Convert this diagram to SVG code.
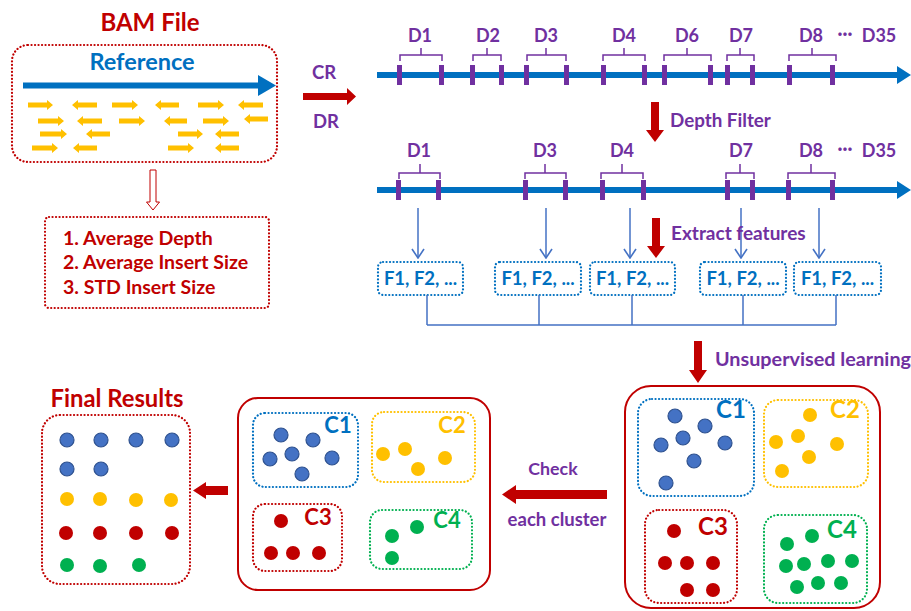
<svg xmlns="http://www.w3.org/2000/svg" width="911" height="611" viewBox="0 0 911 611">
<style>
text{font-family:Lato,"Open Sans","Liberation Sans",sans-serif;font-weight:700}
.red{fill:#C00000}.pur{fill:#7030A0}.blu{fill:#0070C0}
.dotR{fill:none;stroke:#C00000;stroke-width:2.2;stroke-dasharray:0.1 3.4;stroke-linecap:round}
.dotB{fill:none;stroke:#0070C0;stroke-width:2.2;stroke-dasharray:0.1 3.4;stroke-linecap:round}
.dotY{fill:none;stroke:#FFC000;stroke-width:2.2;stroke-dasharray:0.1 3.4;stroke-linecap:round}
.dotG{fill:none;stroke:#00B050;stroke-width:2.2;stroke-dasharray:0.1 3.4;stroke-linecap:round}
.solidR{fill:#fff;stroke:#C00000;stroke-width:2}
.tick{fill:#7030A0}
.br{fill:none;stroke:#7030A0;stroke-width:1.5}
.thin{fill:none;stroke:#4472C4;stroke-width:1.5}
.ya{fill:none;stroke:#FFC000;stroke-width:5}
.db{fill:#4472C4;stroke:#2F528F;stroke-width:1.2}
.dy{fill:#FFC000}.dr{fill:#C00000}.dg{fill:#00B050}
.bigarrow{fill:#C00000}
</style>
<defs>
<marker id="chev" viewBox="0 0 12 14" refX="11" refY="7" markerWidth="12" markerHeight="14" markerUnits="userSpaceOnUse" orient="auto">
<path d="M2,1 L11,7 L2,13" fill="none" stroke="#4472C4" stroke-width="1.6"/>
</marker>
</defs>

<g id="bam-file">
<text x="150" y="31" text-anchor="middle" font-size="24" class="red">BAM File</text>
<rect x="12" y="45" width="265" height="117" rx="16" class="dotR"/>
<text x="142" y="70" text-anchor="middle" font-size="23.5" class="blu">Reference</text>
<rect x="23" y="82.5" width="238" height="6" fill="#0070C0"/>
<path d="M258,75 L276,85.5 L258,96 Z" fill="#0070C0"/>
<g id="reads">
<path class="ya" d="M28,105H48 M97,105H77 M112,105H133 M179,105H160 M198,105H219 M263,105H243 M38,121H59 M102,121H82 M119,121H140 M187,121H169 M203,121H224 M268,119H249 M40,134H62 M110,134H91 M178,134H198 M239,134H220 M32,148H53 M97,148H78 M168,148H189 M239,148H220"/>
<path fill="#FFC000" d="M47,100L53,105L47,110Z M78,100L72,105L78,110Z M132,100L138,105L132,110Z M161,100L155,105L161,110Z M218,100L224,105L218,110Z M244,100L238,105L244,110Z M58,116L64,121L58,126Z M83,116L77,121L83,126Z M139,116L145,121L139,126Z M170,116L164,121L170,126Z M223,116L229,121L223,126Z M250,114L244,119L250,124Z M61,129L67,134L61,139Z M92,129L86,134L92,139Z M197,129L203,134L197,139Z M221,129L215,134L221,139Z M52,143L58,148L52,153Z M79,143L73,148L79,153Z M188,143L194,148L188,153Z M221,143L215,148L221,153Z"/>
</g>
</g>

<g id="features-list">
<rect x="45" y="217" width="224" height="91" rx="4" class="dotR"/>
<text x="63" y="245" font-size="19.5" class="red">1. Average Depth</text>
<text x="63" y="269" font-size="19.5" class="red">2. Average Insert Size</text>
<text x="63" y="294" font-size="19.5" class="red">3. STD Insert Size</text>
</g>

<g id="cr-dr">
<text x="324" y="79" text-anchor="middle" font-size="18.5" class="pur">CR</text>
<text x="326" y="128" text-anchor="middle" font-size="18.5" class="pur">DR</text>
</g>

<g id="track-1">
<rect x="377" y="72" width="524" height="6" fill="#0070C0"/>
<path d="M897,66 L911,75 L897,84 Z" fill="#0070C0"/>
<g class="tick">
<rect x="397" y="65" width="5" height="20"/><rect x="439" y="65" width="5" height="20"/>
<rect x="470" y="65" width="5" height="20"/><rect x="499" y="65" width="5" height="20"/>
<rect x="524" y="65" width="5" height="20"/><rect x="564" y="65" width="5" height="20"/>
<rect x="601" y="65" width="5" height="20"/><rect x="642" y="65" width="5" height="20"/>
<rect x="662" y="65" width="5" height="20"/><rect x="708" y="65" width="5" height="20"/>
<rect x="725" y="65" width="5" height="20"/><rect x="750" y="65" width="5" height="20"/>
<rect x="787" y="65" width="5" height="20"/><rect x="830" y="65" width="5" height="20"/>
</g>
<path class="br" d="M400,61V55H442V61M421,55V48 M473,61V55H501V61M487,55V48 M527,61V55H566V61M546,55V48 M603,61V55H645V61M624,55V48 M664,61V55H711V61M687,55V48 M727,61V55H754V61M740,55V48 M789,61V55H836V61M812,55V48"/>
<g font-size="18" text-anchor="middle">
<text x="420" y="42" class="pur">D1</text><text x="488" y="42" class="pur">D2</text>
<text x="546" y="42" class="pur">D3</text><text x="624" y="42" class="pur">D4</text>
<text x="687" y="42" class="pur">D6</text><text x="741" y="42" class="pur">D7</text>
<text x="811" y="42" class="pur">D8</text><text x="845" y="40" class="pur">···</text>
<text x="879" y="42" class="pur">D35</text>
</g>
</g>

<g id="track-2">
<rect x="377" y="187" width="524" height="6" fill="#0070C0"/>
<path d="M897,181 L911,190 L897,199 Z" fill="#0070C0"/>
<g class="tick">
<rect x="396" y="180" width="5" height="20"/><rect x="436" y="180" width="5" height="20"/>
<rect x="523" y="180" width="5" height="20"/><rect x="563" y="180" width="5" height="20"/>
<rect x="600" y="180" width="5" height="20"/><rect x="641" y="180" width="5" height="20"/>
<rect x="725" y="180" width="5" height="20"/><rect x="750" y="180" width="5" height="20"/>
<rect x="786" y="180" width="5" height="20"/><rect x="830" y="180" width="5" height="20"/>
</g>
<path class="br" d="M399,179V173H440V179M420,173V164 M525,179V173H566V179M545,173V164 M601,179V173H643V179M622,173V164 M726,179V173H754V179M740,173V164 M788,179V173H835V179M811,173V164"/>
<g font-size="18" text-anchor="middle">
<text x="419" y="157" class="pur">D1</text><text x="545" y="157" class="pur">D3</text>
<text x="622" y="157" class="pur">D4</text><text x="741" y="157" class="pur">D7</text>
<text x="811" y="157" class="pur">D8</text><text x="845" y="155" class="pur">···</text>
<text x="879" y="157" class="pur">D35</text>
</g>
</g>

<g id="feature-boxes" font-size="18.5" text-anchor="middle">
<rect x="378" y="262" width="85" height="33" rx="5" class="dotB"/>
<text x="420.5" y="285" class="blu">F1, F2, ...</text>
<rect x="495" y="262" width="86" height="33" rx="5" class="dotB"/>
<text x="538" y="285" class="blu">F1, F2, ...</text>
<rect x="590" y="262" width="85" height="33" rx="5" class="dotB"/>
<text x="632.5" y="285" class="blu">F1, F2, ...</text>
<rect x="700" y="262" width="86" height="33" rx="5" class="dotB"/>
<text x="743" y="285" class="blu">F1, F2, ...</text>
<rect x="794" y="262" width="87" height="33" rx="5" class="dotB"/>
<text x="837.5" y="285" class="blu">F1, F2, ...</text>
</g>

<g id="connectors">
<path class="thin" d="M418,208V258" marker-end="url(#chev)"/>
<path class="thin" d="M546,208V258" marker-end="url(#chev)"/>
<path class="thin" d="M630,208V258" marker-end="url(#chev)"/>
<path class="thin" d="M741,208V258" marker-end="url(#chev)"/>
<path class="thin" d="M819,208V258" marker-end="url(#chev)"/>
<path class="thin" d="M427,295V325 M539,295V325 M632,295V325 M743,295V325 M836,295V325 M427,325H836"/>
<path class="bigarrow" d="M303,93H347V88L356,96.5L347,105V100H303Z"/>
<path fill="#fff" stroke="#C00000" stroke-width="1" d="M150,170H156V202H159.5L153,210L146.5,202H150Z"/>
<path class="bigarrow" d="M651,102H659V130H664L655,142L646,130H651Z"/>
<path class="bigarrow" d="M652,218H660V246H665L656,258L647,246H652Z"/>
<path class="bigarrow" d="M694,341H702V370H707L698,383L689,370H694Z"/>
<path class="bigarrow" d="M607,490V499H516V504L502,494.5L516,485V490Z"/>
<path class="bigarrow" d="M228,486V495H206V499L193,490.5L206,482V486Z"/>
<text x="670" y="127" font-size="18.8" class="pur">Depth Filter</text>
<text x="671" y="240" font-size="19" class="pur">Extract features</text>
<text x="715" y="366" font-size="19.8" class="pur">Unsupervised learning</text>
<text x="553" y="475" font-size="17.8" text-anchor="middle" class="pur">Check</text>
<text x="557" y="526" font-size="18.5" text-anchor="middle" class="pur">each cluster</text>
</g>

<g id="clusters-initial">
<rect x="625" y="386" width="255" height="222" rx="26" class="solidR"/>
<rect x="638" y="399" width="116" height="97" rx="14" class="dotB"/>
<text x="731" y="418" font-size="24" text-anchor="middle" class="blu">C1</text>
<circle cx="675" cy="416" r="7" class="db"/><circle cx="705" cy="426" r="7" class="db"/>
<circle cx="661" cy="445" r="7" class="db"/><circle cx="683" cy="438" r="7" class="db"/>
<circle cx="725" cy="443" r="7" class="db"/><circle cx="694" cy="461" r="7" class="db"/>
<circle cx="666" cy="483" r="7" class="db"/>
<rect x="764" y="400" width="104" height="87" rx="14" class="dotY"/>
<text x="845" y="418" font-size="24" text-anchor="middle" fill="#FFC000">C2</text>
<circle cx="810" cy="415" r="7" class="dy"/><circle cx="776" cy="442" r="7" class="dy"/>
<circle cx="798" cy="436" r="7" class="dy"/><circle cx="837" cy="444" r="7" class="dy"/>
<circle cx="809" cy="457" r="7" class="dy"/><circle cx="782" cy="471" r="7" class="dy"/>
<rect x="645" y="510" width="92" height="93" rx="14" class="dotR"/>
<text x="713" y="535" font-size="24" text-anchor="middle" class="red">C3</text>
<circle cx="674" cy="531" r="7" class="dr"/><circle cx="665" cy="563" r="7" class="dr"/>
<circle cx="687" cy="563" r="7" class="dr"/><circle cx="713" cy="563" r="7" class="dr"/>
<circle cx="687" cy="590" r="7" class="dr"/><circle cx="713" cy="590" r="7" class="dr"/>
<rect x="764" y="515" width="103" height="88" rx="14" class="dotG"/>
<text x="842" y="538" font-size="24" text-anchor="middle" fill="#00B050">C4</text>
<circle cx="812" cy="536" r="7" class="dg"/><circle cx="787" cy="544" r="7" class="dg"/>
<circle cx="786" cy="566" r="7" class="dg"/><circle cx="804" cy="564" r="7" class="dg"/>
<circle cx="828" cy="561" r="7" class="dg"/><circle cx="852" cy="561" r="7" class="dg"/>
<circle cx="797" cy="587" r="7" class="dg"/><circle cx="818" cy="583" r="7" class="dg"/>
<circle cx="841" cy="583" r="7" class="dg"/>
</g>

<g id="clusters-checked">
<rect x="238" y="398" width="252" height="192" rx="20" class="solidR"/>
<rect x="253" y="413" width="105" height="74" rx="12" class="dotB"/>
<text x="338" y="433" font-size="22" text-anchor="middle" class="blu">C1</text>
<circle cx="281" cy="435" r="7" class="db"/><circle cx="313" cy="440" r="7" class="db"/>
<circle cx="270" cy="459" r="7" class="db"/><circle cx="292" cy="454" r="7" class="db"/>
<circle cx="332" cy="458" r="7" class="db"/><circle cx="302" cy="474" r="7" class="db"/>
<rect x="372" y="412" width="103" height="70" rx="12" class="dotY"/>
<text x="452" y="433" font-size="22" text-anchor="middle" fill="#FFC000">C2</text>
<circle cx="383" cy="454" r="7" class="dy"/><circle cx="405" cy="449" r="7" class="dy"/>
<circle cx="418" cy="469" r="7" class="dy"/><circle cx="445" cy="458" r="7" class="dy"/>
<rect x="253" y="504" width="89" height="67" rx="12" class="dotR"/>
<text x="318" y="525" font-size="22" text-anchor="middle" class="red">C3</text>
<circle cx="281" cy="521" r="7" class="dr"/><circle cx="271" cy="553" r="7" class="dr"/>
<circle cx="293" cy="553" r="7" class="dr"/><circle cx="319" cy="553" r="7" class="dr"/>
<rect x="370" y="510" width="102" height="59" rx="12" class="dotG"/>
<text x="447" y="528" font-size="22" text-anchor="middle" fill="#00B050">C4</text>
<circle cx="417" cy="527" r="7" class="dg"/><circle cx="392" cy="536" r="7" class="dg"/>
<circle cx="392" cy="558" r="7" class="dg"/>
</g>

<g id="final-results">
<text x="117" y="407" font-size="23.8" text-anchor="middle" class="red">Final Results</text>
<rect x="42" y="415" width="148" height="169" rx="18" class="dotR"/>
<circle cx="67" cy="440" r="7" class="db"/><circle cx="101" cy="440" r="7" class="db"/>
<circle cx="136" cy="440" r="7" class="db"/><circle cx="172" cy="440" r="7" class="db"/>
<circle cx="67" cy="469" r="7" class="db"/><circle cx="101" cy="469" r="7" class="db"/>
<circle cx="67" cy="499" r="7" class="dy"/><circle cx="100" cy="499" r="7" class="dy"/>
<circle cx="136" cy="500" r="7" class="dy"/><circle cx="171" cy="500" r="7" class="dy"/>
<circle cx="66" cy="533" r="7" class="dr"/><circle cx="100" cy="533" r="7" class="dr"/>
<circle cx="136" cy="533" r="7" class="dr"/><circle cx="172" cy="533" r="7" class="dr"/>
<circle cx="67" cy="565" r="7" class="dg"/><circle cx="100" cy="566" r="7" class="dg"/>
<circle cx="139" cy="565" r="7" class="dg"/>
</g>
</svg>
